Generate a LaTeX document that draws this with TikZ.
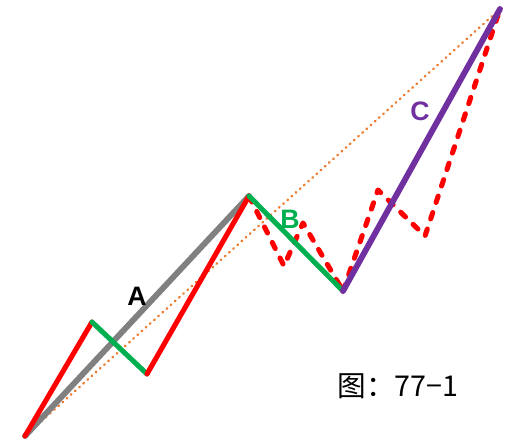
\documentclass[tikz,border=0pt]{standalone}
\usepackage{fontspec}
\setmainfont{Liberation Sans}
\newfontfamily\cjk{Noto Sans CJK SC}
\usepackage{tikz}
\usetikzlibrary{positioning}
\definecolor{waveA}{RGB}{128, 128, 128}
\definecolor{waveB}{RGB}{0, 176, 80}
\definecolor{waveC}{RGB}{112, 48, 160}
\definecolor{subred}{RGB}{255, 0, 0}
\definecolor{trendorange}{RGB}{237, 125, 49}

\begin{document}
\begin{tikzpicture}[x=0.75pt, y=-0.75pt,
				wa/.style={waveA, line width=4.4pt, line cap=round},
				wb/.style={waveB, line width=3.8pt, line cap=round},
				wc/.style={waveC, line width=4.4pt, line cap=round},
				sub/.style={subred, line width=3.8pt, line cap=round, line join=round},
				subdash/.style={sub, dash pattern=on 5pt off 8pt},
				trend/.style={trendorange, line width=1.8pt, line cap=round, dash pattern=on 0.6pt off 3.6pt},
				wlabel/.style={font=\fontsize{20}{20}\selectfont\bfseries}]
				\useasboundingbox (0,0) rectangle (506,441);
				
				%--- points of the three waves ---
				\coordinate (s) at (25,436);
				\coordinate (a1) at (92,322);
				\coordinate (a2) at (147,374);
				\coordinate (aEnd) at (249,196);
				\coordinate (b1) at (284,266);
				\coordinate (b2) at (303,223);
				\coordinate (bEnd) at (343,291);
				\coordinate (c1) at (378,190);
				\coordinate (c2) at (425,236);
				\coordinate (cEnd) at (500,9);
				
				%--- trend line ---
				\draw[trend](s)--(cEnd);
				
				%--- wave A and its parts ---
				\draw[wa](s)--(aEnd);
				\draw[sub](s)--(a1);
				\draw[wb](a1)--(a2);
				\draw[sub](a2)--(aEnd);
				\node[wlabel] (labA) at (137,296) {A};
				
				%--- wave B ---
				\draw[subdash](aEnd)--(b1)--(b2)--(bEnd);
				\draw[wb](aEnd)--(bEnd);
				\node[wlabel, waveB] (labB) at (290,219) {B};
				
				%--- wave C ---
				\draw[subdash](bEnd)--(c1)--(c2)--(cEnd);
				\draw[wc](bEnd)--(cEnd);
				\node[wlabel, waveC] (labC) at (420,111) {C};
				
				\node[font=\cjk\fontsize{21.5}{21.5}\selectfont] (cap) at (398,386) {图：77−1};
			\end{tikzpicture}
\end{document}
